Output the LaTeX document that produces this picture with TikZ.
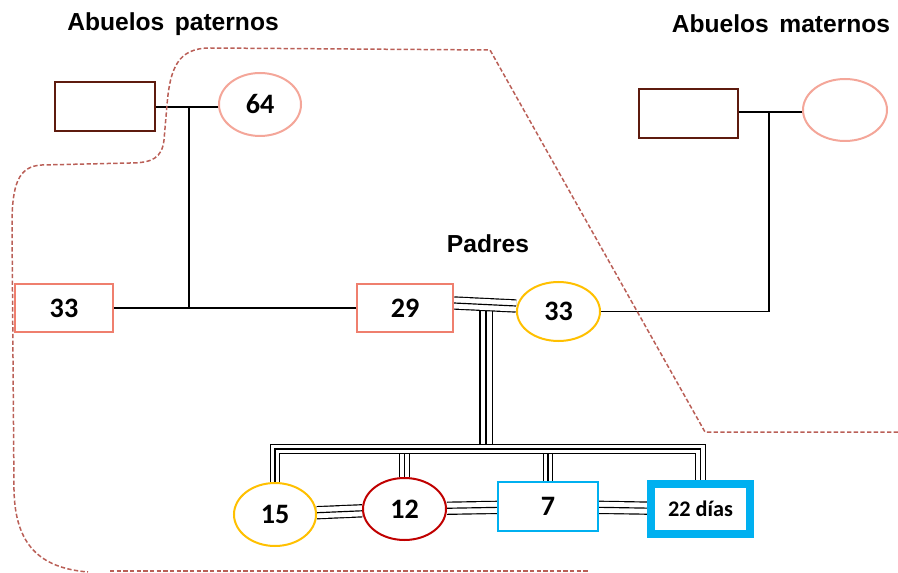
\documentclass[tikz,border=0pt]{standalone}
\usepackage{fontspec}
\setmainfont{Carlito}
\newfontfamily\titlefont{Liberation Sans}
\usetikzlibrary{shapes.geometric,backgrounds,calc}
\definecolor{brownc}{HTML}{5E1B0E}
\definecolor{pinkc}{HTML}{F4A699}
\definecolor{salmonc}{HTML}{EF7F6E}
\definecolor{goldc}{HTML}{FFC000}
\definecolor{redc}{HTML}{C00000}
\definecolor{bluec}{HTML}{00B0F0}
\definecolor{dashc}{HTML}{BA5F57}
\begin{document}
\begin{tikzpicture}[x=0.03cm,y=-0.03cm,
  boxn/.style={draw, rectangle, fill=white, inner sep=0pt, line width=0.06cm,
    font=\bfseries\fontsize{24}{28}\selectfont},
  ovaln/.style={draw, ellipse, fill=white, inner sep=0pt, line width=0.06cm,
    font=\bfseries\fontsize{24}{28}\selectfont},
  titlen/.style={font=\titlefont\bfseries\fontsize{21}{25}\selectfont, inner sep=0pt},
  link/.style={draw=black, line width=0.045cm},
  triple/.style={draw=black, line width=0.40cm,
    postaction={draw=white, line width=0.33cm},
    postaction={draw=black, line width=0.035cm}},
  tripleb/.style={draw=black, line width=0.32cm,
    postaction={draw=white, line width=0.25cm},
    postaction={draw=black, line width=0.035cm}},
  bound/.style={draw=dashc, line width=0.045cm, dash pattern=on 0.13cm off 0.07cm}]
\useasboundingbox (0,0) rectangle (898,573);

% titles
\node[titlen] (tp) at (173,24) {Abuelos\hspace{0.15em} paternos};
\node[titlen] (tm) at (781,24) {Abuelos\hspace{0.15em} maternos};
\node[titlen] (tpad) at (488,244) {Padres};

% grandparents
\node[boxn, draw=brownc, line width=0.075cm, minimum width=3.0cm, minimum height=1.47cm] (gpf) at (105,106.5) {};
\node[ovaln, draw=pinkc, minimum width=2.46cm, minimum height=1.89cm] (gpm) at (260,104.5) {64};
\node[boxn, draw=brownc, line width=0.075cm, minimum width=2.97cm, minimum height=1.47cm] (mgf) at (688.5,113.5) {};
\node[ovaln, draw=pinkc, minimum width=2.52cm, minimum height=1.86cm] (mgm) at (845,110) {};

% parents generation
\node[boxn, draw=salmonc, minimum width=2.94cm, minimum height=1.44cm] (f33) at (64,308) {33};
\node[boxn, draw=salmonc, minimum width=2.88cm, minimum height=1.44cm] (f29) at (405,308) {29};
\node[ovaln, draw=goldc, minimum width=2.49cm, minimum height=1.77cm] (m33) at (558.5,311.5) {33};

% children
\node[ovaln, draw=goldc, minimum width=2.46cm, minimum height=1.89cm] (c15) at (275,514.5) {15};
\node[ovaln, draw=redc, minimum width=2.49cm, minimum height=1.86cm] (c12) at (404.5,509) {12};
\node[boxn, draw=bluec, minimum width=3.0cm, minimum height=1.47cm] (c7) at (548,506.5) {7};
\node[boxn, draw=bluec, line width=0.24cm, minimum width=2.97cm, minimum height=1.5cm,
  font=\bfseries\fontsize{19}{23}\selectfont] (c22) at (700.5,509) {22 días};

\coordinate (pj) at (189,107);
\coordinate (mj) at (769,112);
\coordinate (cc) at (486,305);
\coordinate (bus) at (486,449);

\begin{scope}[on background layer]
  % grandparents links
  \draw[link] (gpf |- pj) -- (gpm |- pj);
  \draw[link] (pj) -- (pj |- f33);
  \draw[link] (mgf |- mj) -- (mgm |- mj);
  \draw[link] (mj) |- (m33);
  \draw[link] (f33) -- (f29);
  % parents to children
  \draw[triple] (cc) -- (bus);
  \draw[triple] ([yshift=0.15cm]f29.east) -- ([yshift=0.165cm]m33.west);
  \draw[tripleb] (c12.north) -- (c12.north |- bus);
  \draw[tripleb] (c7.north) -- (c7.north |- bus);
  \draw[tripleb] (c15.north) |- (bus) -| (c22.north);
  % siblings
  \draw[triple] (c15) -- (c12);
  \draw[triple] (c12) -- (c7);
  \draw[triple] (c7) -- (c22);
\end{scope}

% dashed boundary
\draw[bound] (898,432) -- (705,432) -- (490,50) -- (210,48)
  .. controls (178,48) and (170,68) .. (167,105) -- (164,140)
  .. controls (162,158) and (152,163) .. (130,163) -- (42,165)
  .. controls (18,166) and (12,185) .. (12,225) -- (14,490)
  .. controls (15,545) and (40,568) .. (88,572);
\draw[bound] (110,571) -- (590,571);
\end{tikzpicture}
\end{document}
